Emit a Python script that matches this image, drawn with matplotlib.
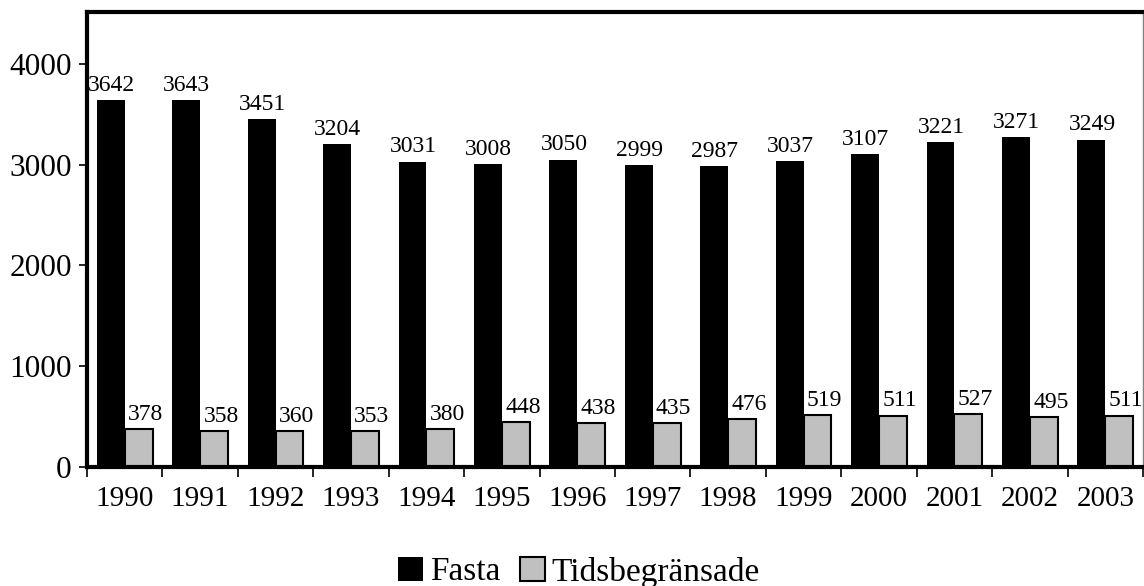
import numpy as np
import matplotlib.pyplot as plt

years = ["1990", "1991", "1992", "1993", "1994", "1995", "1996",
         "1997", "1998", "1999", "2000", "2001", "2002", "2003"]
fasta = [3642, 3643, 3451, 3204, 3031, 3008, 3050, 2999, 2987, 3037, 3107, 3221, 3271, 3249]
tidsbegransade = [378, 358, 360, 353, 380, 448, 438, 435, 476, 519, 511, 527, 495, 511]

plt.rcParams['font.family'] = ['Liberation Serif', 'DejaVu Serif']

fig = plt.figure(figsize=(11.44, 5.86), dpi=100)
W, H = 1144, 586
ax = fig.add_axes([87 / W, 1 - 467 / H, (1143 - 87) / W, (467 - 12) / H])

x = np.arange(len(years))
bw = 0.37
ax.bar(x + 0.5 - bw / 2, fasta, width=bw, color='black', edgecolor='black', linewidth=0, label='Fasta')
ax.bar(x + 0.5 + bw / 2, tidsbegransade, width=bw, color='#c0c0c0', edgecolor='black', linewidth=1.5,
       label='Tidsbegränsade')

for i in range(len(years)):
    ax.annotate(str(fasta[i]), (x[i] + 0.5 - bw / 2, fasta[i]), xytext=(0.5, 3), textcoords='offset points',
                ha='center', va='bottom', fontsize=17)
    ax.annotate(str(tidsbegransade[i]), (x[i] + 0.5 + bw / 2, tidsbegransade[i]), xytext=(5, 3),
                textcoords='offset points', ha='center', va='bottom', fontsize=17)

ax.set_xlim(0, len(years))
ax.set_ylim(0, 4515)
ax.set_yticks([0, 1000, 2000, 3000, 4000])
ax.set_xticks(np.arange(len(years) + 1))
ax.set_xticklabels([])
ax.set_xticks(x + 0.5, minor=True)
ax.set_xticklabels(years, minor=True)
ax.tick_params(axis='x', which='major', direction='out', length=7, width=1.2)
ax.tick_params(axis='x', which='minor', length=0, pad=14, labelsize=21)
ax.tick_params(axis='y', direction='out', length=6, width=1.2, pad=5, labelsize=22.5)

for side in ['left', 'bottom', 'top']:
    ax.spines[side].set_linewidth(3)
ax.spines['right'].set_linewidth(1)
ax.spines['right'].set_color('#808080')

fig.legend(loc='center', bbox_to_anchor=(579 / W, 1 - 572 / H), ncol=2, frameon=False,
           fontsize=24, handlelength=0.75, handleheight=0.75, handletextpad=0.2, columnspacing=0.6)

fig.savefig('out.png', dpi=100)
